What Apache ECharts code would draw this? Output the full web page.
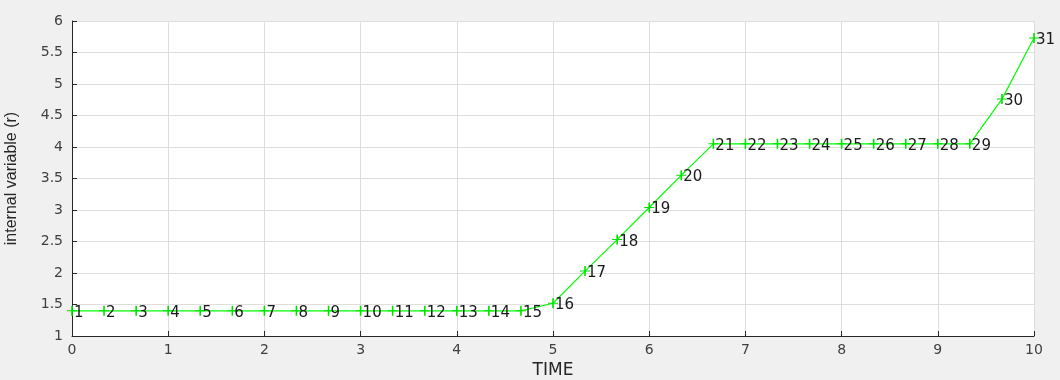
<!DOCTYPE html>
<html>
<head>
<meta charset="utf-8">
<script src="https://cdn.jsdelivr.net/npm/echarts@6/dist/echarts.min.js"></script>
<style>
html,body{margin:0;padding:0;background:#f0f0f0;}
#chart{width:1060px;height:380px;}
</style>
</head>
<body>
<div id="chart"></div>
<script>
const timeValues = [0, 0.333, 0.667, 1, 1.333, 1.667, 2, 2.333, 2.667, 3, 3.333, 3.667, 4, 4.333, 4.667, 5,
  5.333, 5.667, 6, 6.333, 6.667, 7, 7.333, 7.667, 8, 8.333, 8.667, 9, 9.333, 9.667, 10];
const rValues = [1.40, 1.40, 1.40, 1.40, 1.40, 1.40, 1.40, 1.40, 1.40, 1.40, 1.40, 1.40, 1.40, 1.40, 1.40, 1.52,
  2.03, 2.53, 3.04, 3.55, 4.05, 4.05, 4.05, 4.05, 4.05, 4.05, 4.05, 4.05, 4.05, 4.76, 5.73];
const pointLabels = ['1','2','3','4','5','6','7','8','9','10','11','12','13','14','15','16',
  '17','18','19','20','21','22','23','24','25','26','27','28','29','30','31'];
const xTicks = [0, 1, 2, 3, 4, 5, 6, 7, 8, 9, 10];
const yTicks = [1, 1.5, 2, 2.5, 3, 3.5, 4, 4.5, 5, 5.5, 6];

const data = timeValues.map((t, i) => ({ value: [t, rValues[i]], name: pointLabels[i] }));
const plus = 'path://M4.2,0H5.8V4.5H10V5.5H5.8V10H4.2V5.5H0V4.5H4.2Z';

const chart = echarts.init(document.getElementById('chart'), null, { renderer: 'canvas' });
chart.setOption({
  backgroundColor: '#f0f0f0',
  animation: false,
  grid: { left: 72, right: 26, top: 21, bottom: 44, containLabel: false, outerBoundsMode: 'none',
    show: true, backgroundColor: '#ffffff', borderWidth: 0 },
  xAxis: {
    type: 'value', min: xTicks[0], max: xTicks[xTicks.length - 1], interval: 1,
    name: 'TIME', nameLocation: 'middle', nameGap: 26,
    nameTextStyle: { fontFamily: 'DejaVu Sans', fontSize: 17, color: '#262626' },
    axisLine: { show: true, onZero: false, lineStyle: { color: '#262626', width: 1 } },
    axisTick: { show: true, inside: true, length: 5, lineStyle: { color: '#262626' } },
    axisLabel: { fontFamily: 'DejaVu Sans', fontSize: 14, color: '#404040', margin: 7 },
    splitLine: { show: true, lineStyle: { color: '#dedede', width: 1 } }
  },
  yAxis: {
    type: 'value', min: yTicks[0], max: yTicks[yTicks.length - 1], interval: 0.5,
    name: 'internal variable (r)', nameLocation: 'middle', nameGap: 52,
    nameTextStyle: { fontFamily: 'Liberation Sans Narrow, Liberation Sans', fontSize: 16, color: '#262626' },
    axisLine: { show: true, onZero: false, lineStyle: { color: '#262626', width: 1 } },
    axisTick: { show: true, inside: true, length: 5, lineStyle: { color: '#262626' } },
    axisLabel: { fontFamily: 'DejaVu Sans', fontSize: 14, color: '#404040', margin: 9, padding: [3, 0, 0, 0] },
    splitLine: { show: true, lineStyle: { color: '#dedede', width: 1 } }
  },
  series: [{
    type: 'line',
    data: data,
    clip: false,
    symbol: plus,
    symbolSize: 10,
    showAllSymbol: true,
    lineStyle: { color: '#00ff00', width: 1.2 },
    itemStyle: { color: '#00e000' },
    label: {
      show: true, position: 'right', distance: -3, offset: [0, 2],
      formatter: p => p.name,
      fontFamily: 'DejaVu Sans', fontSize: 15, color: '#1a1a1a'
    },
    emphasis: { disabled: true }
  }]
});
</script>
</body>
</html>
